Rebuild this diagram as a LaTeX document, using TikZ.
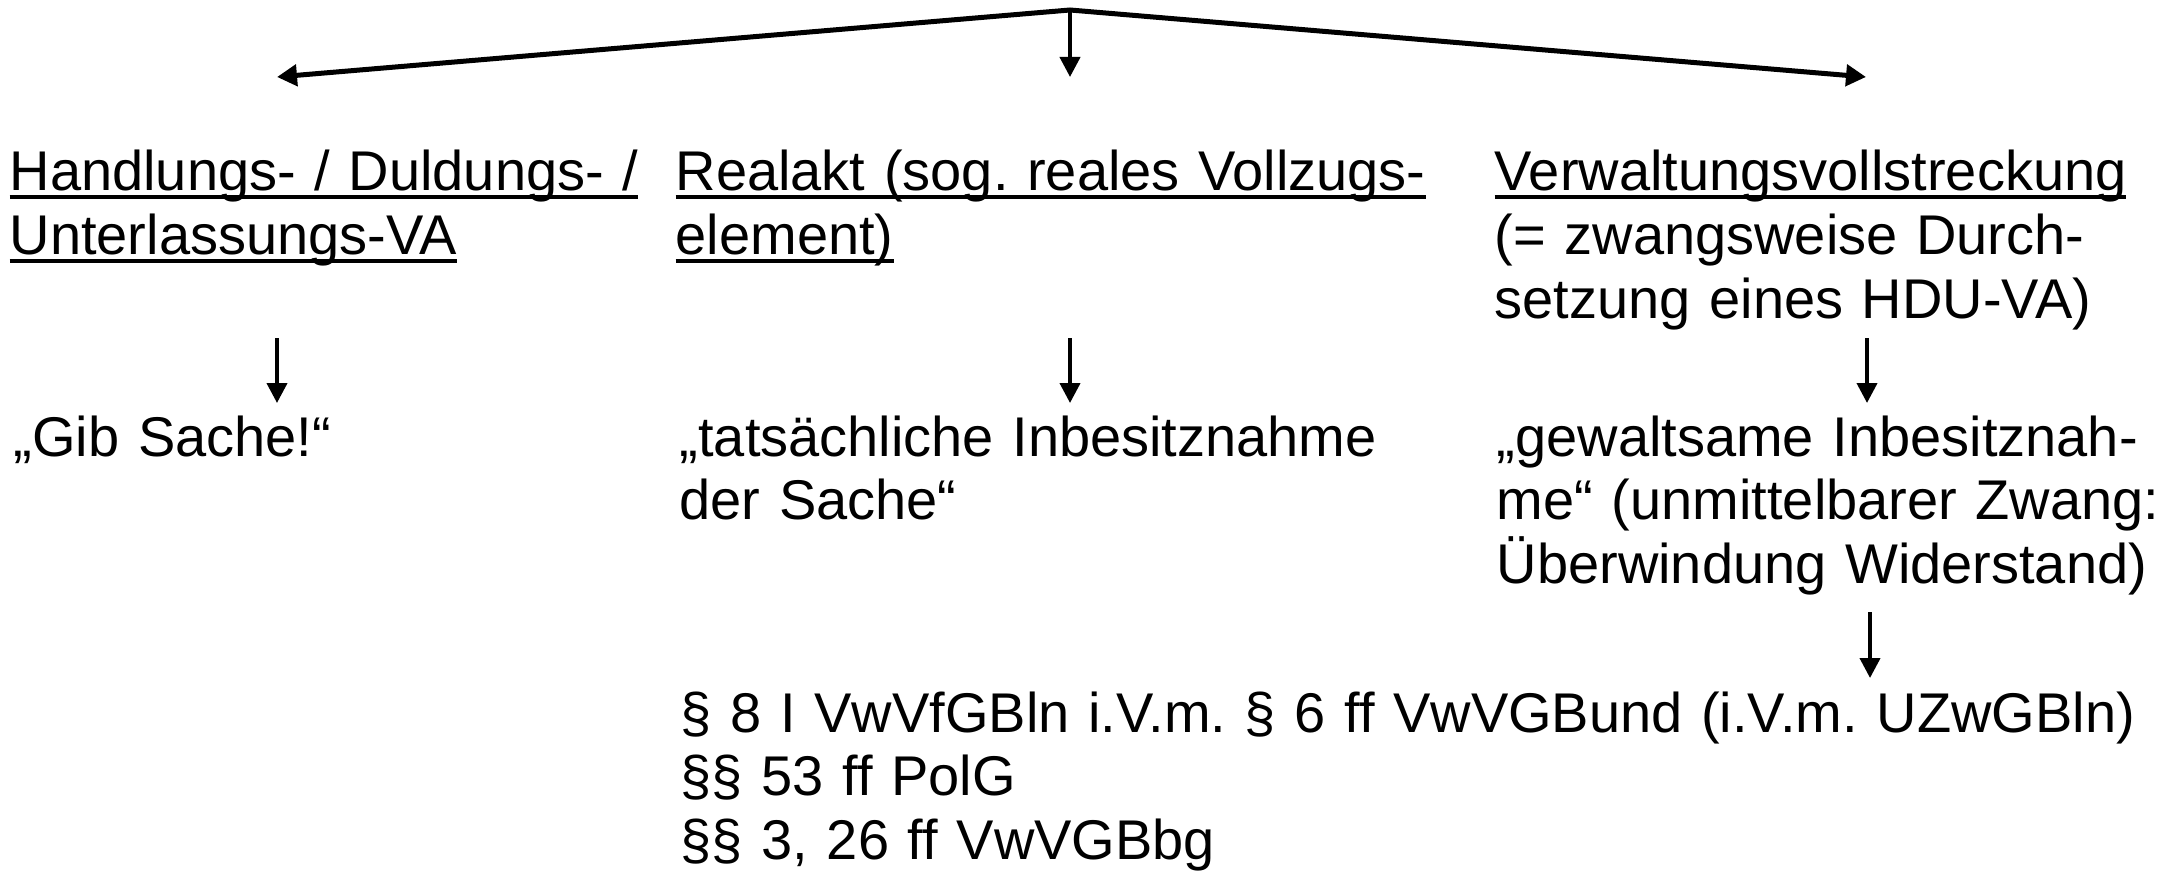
\documentclass[tikz,border=0pt]{standalone}
\usepackage{fontspec}
\setmainfont{Liberation Sans}
\usetikzlibrary{arrows.meta}
\frenchspacing

\newsavebox\ubox
\newcommand\unterstr[1]{\sbox\ubox{#1}\leavevmode\rlap{\rule[-0.079cm]{\wd\ubox}{0.034cm}}\usebox\ubox}

\begin{document}
\begin{tikzpicture}[
  txt/.style={anchor=base west, inner sep=0pt, align=left, font=\fontsize{15.93pt}{18.2pt}\selectfont},
  fan/.style={line width=0.05cm, {Triangle[length=0.2cm,width=0.21cm]}-{Triangle[length=0.2cm,width=0.21cm]}},
  pfeil/.style={line width=0.04cm, -{Triangle[length=0.2cm,width=0.2cm]}}]

\useasboundingbox (0,0) rectangle (21.66,8.8);

% Verzweigung oben
\coordinate (spitze) at (10.70,8.70);
\coordinate (zielL) at (2.77,8.03);
\coordinate (zielM) at (10.70,8.03);
\coordinate (zielR) at (18.66,8.03);
\draw [fan] (zielL) -- (spitze) -- (zielR);
\draw [pfeil] (spitze) -- (zielM);

% Ueberschriften
\node [txt, text width=6.6cm] (hva) at (0.09,6.89) {\unterstr{Handlungs- / Duldungs- /}\\\unterstr{Unterlassungs-VA}};
\node [txt, text width=8cm] (realakt) at (6.75,6.89) {\unterstr{Realakt (sog. reales Vollzugs-}\\\unterstr{element)}};
\node [txt, text width=7cm] (vvs) at (14.94,6.89) {\unterstr{Verwaltungsvollstreckung}\\(= zwangsweise Durch-\\setzung eines HDU-VA)};

% Beispiele
\node [txt, text width=6.6cm] (gib) at (0.13,4.24) {„Gib Sache!“};
\node [txt, text width=8cm] (tats) at (6.79,4.24) {„tatsächliche Inbesitznahme\\der Sache“};
\node [txt, text width=7cm] (gewalt) at (14.96,4.24) {„gewaltsame Inbesitznah-\\me“ (unmittelbarer Zwang:\\Überwindung Widerstand)};

% Normen
\node [txt, text width=15cm] (normen) at (6.80,1.48) {§ 8 I VwVfGBln i.V.m. § 6 ff VwVGBund (i.V.m. UZwGBln)\\§§ 53 ff PolG\\§§ 3, 26 ff VwVGBbg};

\foreach \x/\n in {2.77/L, 10.70/M, 18.67/R} {
  \coordinate (o\n) at (\x,5.42);
  \coordinate (u\n) at (\x,4.77);
  \draw [pfeil] (o\n) -- (u\n);
}
\coordinate (oN) at (18.70,2.68);
\coordinate (uN) at (18.70,2.02);
\draw [pfeil] (oN) -- (uN);

\end{tikzpicture}
\end{document}
